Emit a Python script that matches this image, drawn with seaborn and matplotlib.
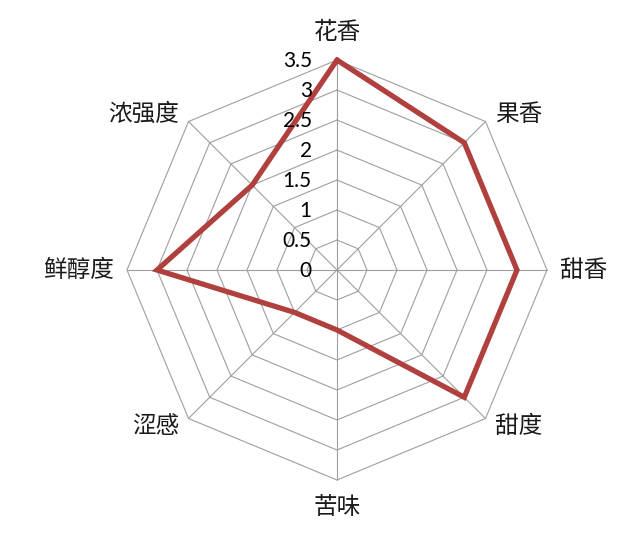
import numpy as np
import pandas as pd
import matplotlib
matplotlib.use("Agg")
import matplotlib.pyplot as plt
import seaborn as sns

# data
categories = ["花香", "果香", "甜香", "甜度", "苦味", "涩感", "鲜醇度", "浓强度"]
scores = [3.5, 3.0, 3.0, 3.0, 1.0, 1.0, 3.0, 2.0]
tick_values = [0, 0.5, 1, 1.5, 2, 2.5, 3, 3.5]
tick_labels = ["0", "0.5", "1", "1.5", "2", "2.5", "3", "3.5"]

sns.set_theme(style="white")
plt.rcParams["font.family"] = ["Noto Sans CJK SC", "DejaVu Sans"]

n = len(categories)
# clockwise from the top
angles = np.pi / 2 - np.arange(n) * 2 * np.pi / n
rmax = tick_values[-1]

fig = plt.figure(figsize=(6.4, 5.39), dpi=100)
ax = fig.add_axes([0, 0, 1, 1])
# 60 px per unit, centre at (337, 270) px
ax.set_xlim(-337 / 60, (640 - 337) / 60)
ax.set_ylim(-(539 - 270) / 60, 270 / 60)
ax.axis("off")

grid_color = "#9e9e9e"
# octagon rings
for r in tick_values[1:]:
    gx = np.append(r * np.cos(angles), r * np.cos(angles[0]))
    gy = np.append(r * np.sin(angles), r * np.sin(angles[0]))
    ax.plot(gx, gy, color=grid_color, lw=0.8, zorder=1)
# spokes
for a in angles:
    ax.plot([0, rmax * np.cos(a)], [0, rmax * np.sin(a)], color=grid_color, lw=0.8, zorder=1)

# data polygon
df = pd.DataFrame({"cat": categories + [categories[0]],
                   "val": scores + [scores[0]],
                   "ang": np.append(angles, angles[0])})
df["x"] = df["val"] * np.cos(df["ang"])
df["y"] = df["val"] * np.sin(df["ang"])
sns.lineplot(data=df, x="x", y="y", sort=False, estimator=None, ax=ax,
             color="#b0403d", lw=3.8, zorder=3)
ax.lines[-1].set_solid_joinstyle("miter")

# radial tick labels
for v, t in zip(tick_values, tick_labels):
    ax.text(-0.42, v - 0.02, t, ha="right", va="center", fontsize=15,
            family=["Lato", "DejaVu Sans"], color="#000000", zorder=4)

# category labels
for cat, a in zip(categories, angles):
    c, s = np.cos(a), np.sin(a)
    if abs(c) < 0.1:
        x, y = 0, 3.96 * np.sign(s)
        ha = "center"
    elif abs(s) < 0.1:
        x, y = 3.72 * np.sign(c), 0.0
        ha = "left" if c > 0 else "right"
    else:
        x, y = 2.63 * np.sign(c), 2.6 * np.sign(s)
        ha = "left" if c > 0 else "right"
    ax.text(x, y, cat, ha=ha, va="center", fontsize=17, color="#1a1a1a")

fig.savefig("out.png", dpi=100)
